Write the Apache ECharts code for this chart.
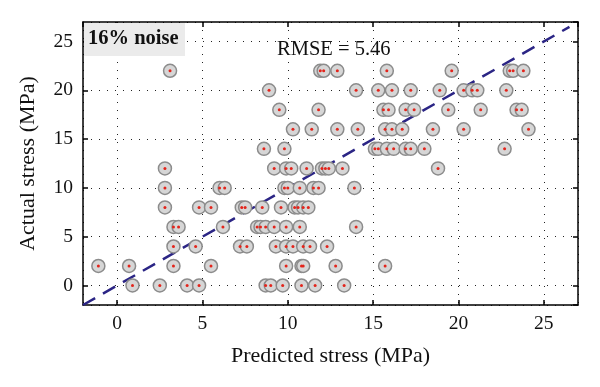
<!DOCTYPE html>
<html><head><meta charset="utf-8">
<script src="https://cdn.jsdelivr.net/npm/echarts@6/dist/echarts.min.js"></script>
<style>html,body{margin:0;padding:0;background:#fff}#c{width:600px;height:387px}</style>
</head><body><div id="c"></div>
<script>
// Predicted stress (x) and actual stress (y)
const predicted = [
  0.9, 2.5, 4.1, 4.8, 8.7, 9.0, 9.7, 10.8, 11.6, 13.3,
  -1.1, 0.7, 3.3, 5.5, 9.9, 10.8, 10.9, 12.8, 15.7,
  3.3, 4.6, 7.2, 7.6, 9.3, 9.9, 10.3, 10.9, 11.3, 12.3,
  3.3, 3.6, 6.2, 8.2, 8.4, 8.7, 9.2, 9.9, 10.7, 14.0,
  2.8, 4.8, 5.5, 7.3, 7.5, 8.5, 9.6, 10.4, 10.6, 10.9, 11.2,
  2.8, 6.0, 6.3, 9.8, 10.0, 10.7, 11.5, 11.8, 13.9,
  2.8, 9.2, 9.9, 10.2, 11.1, 12.0, 12.2, 12.4, 13.2, 18.8,
  8.6, 9.8, 15.1, 15.3, 15.8, 16.2, 16.9, 17.2, 18.0, 22.7,
  10.3, 11.4, 12.9, 14.1, 15.7, 16.1, 16.7, 18.5, 20.3, 24.1,
  9.5, 11.8, 15.6, 15.9, 16.9, 17.4, 19.4, 21.3, 23.4, 23.7,
  8.9, 14.0, 15.3, 16.1, 17.2, 18.9, 20.3, 20.8, 21.1, 22.8,
  3.1, 11.9, 12.1, 12.9, 15.8, 19.6, 23.0, 23.2, 23.8
];
const actual = [
  0, 0, 0, 0, 0, 0, 0, 0, 0, 0,
  2, 2, 2, 2, 2, 2, 2, 2, 2,
  4, 4, 4, 4, 4, 4, 4, 4, 4, 4,
  6, 6, 6, 6, 6, 6, 6, 6, 6, 6,
  8, 8, 8, 8, 8, 8, 8, 8, 8, 8, 8,
  10, 10, 10, 10, 10, 10, 10, 10, 10,
  12, 12, 12, 12, 12, 12, 12, 12, 12, 12,
  14, 14, 14, 14, 14, 14, 14, 14, 14, 14,
  16, 16, 16, 16, 16, 16, 16, 16, 16, 16,
  18, 18, 18, 18, 18, 18, 18, 18, 18, 18,
  20, 20, 20, 20, 20, 20, 20, 20, 20, 20,
  22, 22, 22, 22, 22, 22, 22, 22, 22
];
const refLine = [-2, 26.5];
const axisRange = [-2, 27];
const xTitle = 'Predicted stress (MPa)';
const yTitle = 'Actual stress (MPa)';
const noiseLabel = '16% noise';
const rmseLabel = 'RMSE = 5.46';

const pts = predicted.map((x, i) => [x, actual[i]]);
const FONT = 'Liberation Serif';
const dotted = { show: true, lineStyle: { color: '#222', width: 1, type: [1, 7] } };

function mkAxis(pos, isMain, name, dim) {
  return {
    type: 'value', position: pos, min: axisRange[0], max: axisRange[1],
    minInterval: 5, maxInterval: 5,
    name: isMain ? name : '', nameLocation: 'middle',
    nameGap: dim === 'x' ? 40 : 44,
    nameTextStyle: { fontFamily: FONT, fontSize: 22, color: '#111' },
    axisLine: { show: true, onZero: false, lineStyle: { color: '#000', width: 1.5 } },
    axisTick: { show: true, inside: true, length: 5, lineStyle: { color: '#000', width: 1.5 } },
    axisLabel: { show: isMain, showMinLabel: false, showMaxLabel: false,
      fontFamily: FONT, fontSize: 19.5, color: '#111', margin: dim === 'x' ? 9 : 10 },
    splitLine: isMain ? dotted : { show: false }
  };
}

const chart = echarts.init(document.getElementById('c'), null, { renderer: 'canvas' });
chart.setOption({
  animation: false,
  grid: { left: 83, right: 22, top: 22, bottom: 82 },
  xAxis: [mkAxis('bottom', true, xTitle, 'x'), mkAxis('top', false, '', 'x')],
  yAxis: [mkAxis('left', true, yTitle, 'y'), mkAxis('right', false, '', 'y')],
  series: [
    {
      type: 'line', data: refLine.map(v => [v, v]), symbol: 'none', z: 1,
      lineStyle: { color: '#2b2585', width: 2.5, type: [14, 9] }
    },
    {
      type: 'scatter', data: pts, symbol: 'circle', symbolSize: 13, z: 2,
      itemStyle: { color: '#d6d6d6', borderColor: '#8c8c8c', borderWidth: 1.5, opacity: 1 }
    },
    {
      type: 'scatter', data: pts, symbol: 'circle', symbolSize: 3, z: 3,
      itemStyle: { color: '#e3241b', opacity: 1 }
    }
  ],
  graphic: [
    { type: 'rect', left: 84, top: 23, shape: { width: 101, height: 33 }, style: { fill: '#ebebeb' }, z: 10 },
    { type: 'text', left: 88, top: 28, style: { text: noiseLabel, font: 'bold 20.5px "Liberation Serif"', fill: '#111' }, z: 11 },
    { type: 'text', left: 277, top: 39, style: { text: rmseLabel, font: '20.5px "Liberation Serif"', fill: '#111' }, z: 11 }
  ]
});
</script></body></html>
